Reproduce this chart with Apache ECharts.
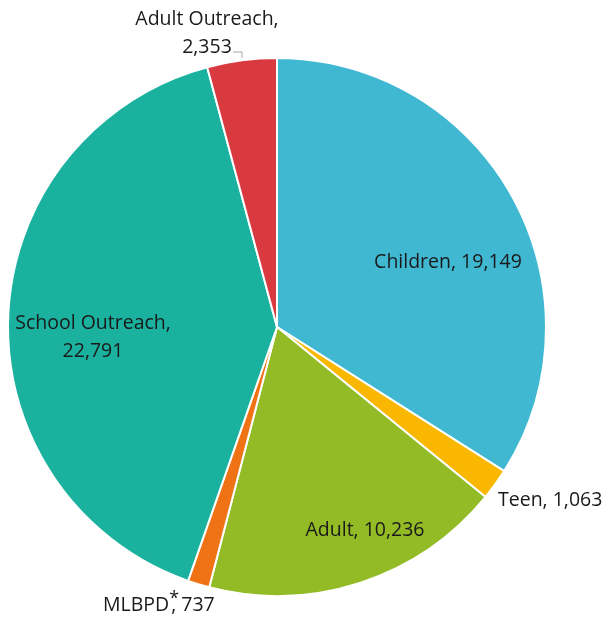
<!DOCTYPE html>
<html>
<head>
<meta charset="utf-8">
<script src="https://cdn.jsdelivr.net/npm/echarts@6/dist/echarts.min.js"></script>
<style>
  html, body { margin: 0; padding: 0; background: #fff; }
  #chart { width: 606px; height: 619px; }
</style>
</head>
<body>
<div id="chart"></div>
<script>
// Program attendance by category
const categories = ['Children', 'Teen', 'Adult', 'MLBPD', 'School Outreach', 'Adult Outreach'];
const attendance = [19149, 1063, 10236, 737, 22791, 2353];
const sliceColors = ['#41B8D2', '#F9B700', '#92BB25', '#EF7315', '#1BB19F', '#D83A40'];

const fmt = v => v.toLocaleString('en-US');

// Where each label's text sits on the canvas
const labelSpots = {
  'Children':        { x: 448, y: 262, align: 'center' },
  'Teen':            { x: 498, y: 500, align: 'left' },
  'Adult':           { x: 365, y: 530, align: 'center' },
  'MLBPD':           { x: 103, y: 605, align: 'left' },
  'School Outreach': { x: 93,  y: 337, align: 'center' },
  'Adult Outreach':  { x: 207, y: 33,  align: 'center' }
};

const labelText = (name, value) => {
  if (name === 'School Outreach') return 'School Outreach,\n' + fmt(value);
  if (name === 'Adult Outreach') return 'Adult Outreach,\n' + fmt(value);
  if (name === 'MLBPD') return '{t|MLBPD}{s|*}{t|, ' + fmt(value) + '}';
  return '{t|' + name + ', ' + fmt(value) + '}';
};

const chart = echarts.init(document.getElementById('chart'), null, { renderer: 'canvas' });

chart.setOption({
  animation: false,
  backgroundColor: '#ffffff',
  series: [{
    type: 'pie',
    center: [277, 327],
    radius: [0, 269],
    startAngle: 90,
    clockwise: true,
    avoidLabelOverlap: false,
    itemStyle: { borderColor: '#ffffff', borderWidth: 2 },
    label: {
      show: true,
      position: 'inside',
      color: '#1a1a1a',
      fontFamily: 'Open Sans',
      fontSize: 19.5,
      lineHeight: 28,
      formatter: p => labelText(p.name, p.value),
      rich: {
        t: { fontFamily: 'Open Sans', fontSize: 19.5, color: '#1a1a1a' },
        s: { fontFamily: 'Open Sans', fontSize: 18, color: '#1a1a1a', padding: [0, 0, 12, 0], width: 2 }
      }
    },
    labelLine: { show: false },
    labelLayout: params => {
      const spot = labelSpots[categories[params.dataIndex]];
      return { x: spot.x, y: spot.y, align: spot.align, verticalAlign: 'middle' };
    },
    data: categories.map((c, i) => ({
      name: c,
      value: attendance[i],
      itemStyle: { color: sliceColors[i] }
    }))
  }],
  graphic: [{
    type: 'polyline',
    shape: { points: [[233, 52], [242, 52], [242, 58]] },
    style: { stroke: '#a6a6a6', lineWidth: 1, fill: null }
  }]
});
</script>
</body>
</html>
